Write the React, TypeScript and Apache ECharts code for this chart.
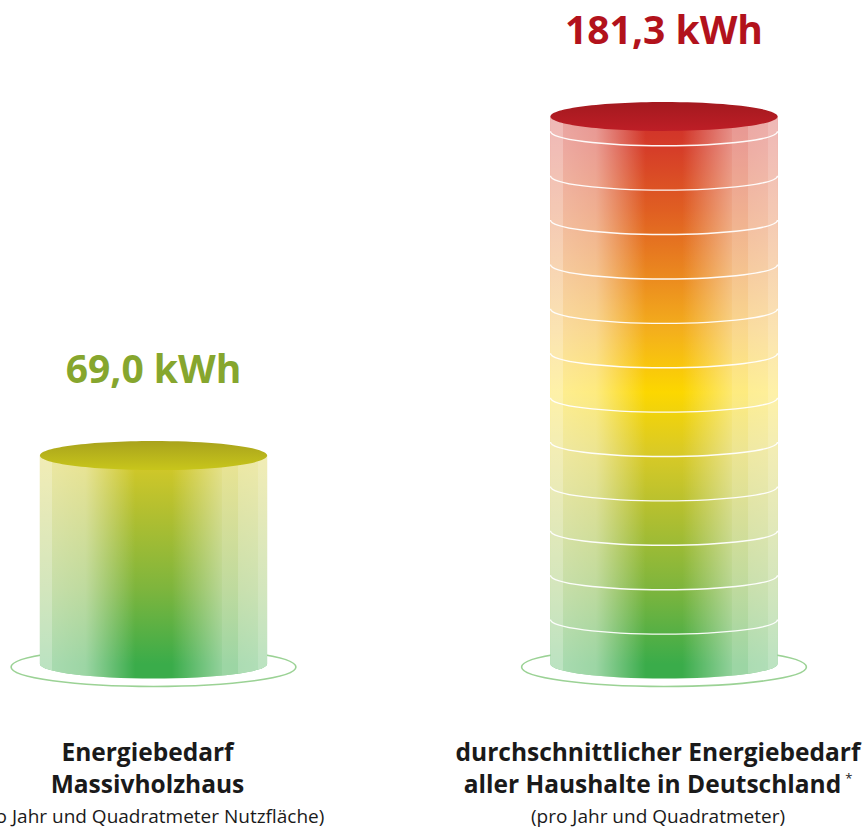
import React, { useEffect, useRef } from 'react';
import * as echarts from 'echarts';

// ---- data ----
const categoryTitles: string[][] = [
  ['Energiebedarf', 'Massivholzhaus'],
  ['durchschnittlicher Energiebedarf', 'aller Haushalte in Deutschland'],
];
const footnoteMarks = ['', '*'];
const subtitles = ['(pro Jahr und Quadratmeter Nutzfläche)', '(pro Jahr und Quadratmeter)'];
const values = [69.0, 181.3];
const unit = 'kWh';
const stripeSteps = [0, 14.7]; // kWh between white rings (0 = no rings)
const yMax = 200;

// colour scale by kWh level (shared by both cylinders)
const colorScaleKwh = [0, 25, 50, 70, 90, 110, 130, 150, 170, 181.3];
const colorScale = ['#3aac4a', '#7eb53d', '#b2bf30', '#d9ca26', '#fcd700', '#f4b01c', '#ea861f', '#e05f22', '#d63e28', '#cf2f2a'];

// ---- styles ----
const labelColors = ['#86a62e', '#b2121c'];
const capColors = [
  ['#a9a31c', '#c8c61b'],
  ['#a3191f', '#be1e26'],
];
const FONT = '"Open Sans", "DejaVu Sans", sans-serif';

const fmt = (v: number) => v.toFixed(1).replace('.', ',') + ' ' + unit;

export default function App() {
  const ref = useRef<HTMLDivElement>(null);

  useEffect(() => {
    if (!ref.current) return;
    const chart = echarts.init(ref.current, undefined, { renderer: 'svg' });
    const colorMax = colorScaleKwh[colorScaleKwh.length - 1];

    const shadeStops = [
      [0, 0.66], [0.055, 0.66], [0.055, 0.56], [0.2, 0.5], [0.42, 0], [0.58, 0],
      [0.8, 0.45], [0.8, 0.5], [0.87, 0.5], [0.87, 0.58], [0.96, 0.6], [0.96, 0.66], [1, 0.66],
    ].map(([o, a]) => ({ offset: o, color: `rgba(255,255,255,${a})` }));

    const option: any = {
      animation: false,
      grid: { left: -101.75, width: 1021, top: 60, height: 604, outerBoundsMode: 'none', containLabel: false },
      xAxis: {
        type: 'category',
        data: categoryTitles.map((t) => t.join(' ')),
        axisLine: { show: false },
        axisTick: { show: false },
        axisLabel: {
          interval: 0,
          margin: 71,
          padding: [0, 12, 0, 0],
          align: 'center',
          hideOverlap: false,
          formatter: (_v: string, i: number) => {
            const lines = categoryTitles[i].map((l, j) =>
              j === categoryTitles[i].length - 1 && footnoteMarks[i]
                ? `{t|${l}}{sup|${footnoteMarks[i]}}`
                : `{t|${l}}`
            );
            return lines.join('\n') + `\n{s|${subtitles[i]}}`;
          },
          rich: {
            t: { fontFamily: FONT, fontWeight: 'bold', fontSize: 24.5, lineHeight: 32, color: '#1a1a1a' },
            sup: { fontFamily: FONT, fontSize: 13, lineHeight: 14, color: '#1a1a1a', verticalAlign: 'top', padding: [4, 0, 0, 4] },
            s: { fontFamily: FONT, fontSize: 19, lineHeight: 34, color: '#1a1a1a' },
          },
        },
      },
      yAxis: { type: 'value', min: 0, max: yMax, show: false },
      series: [
        {
          type: 'custom',
          data: values.map((v, i) => [i, v]),
          encode: { x: 0, y: 1 },
          renderItem: (params: any, api: any) => {
            const i = params.dataIndex;
            const xv = api.value(0);
            const v = api.value(1);
            const [cx, yTop] = api.coord([xv, v]);
            const yBot = api.coord([xv, 0])[1];
            const band = api.size([1, 0])[0];
            const rx = band * 0.2225;
            const ry = 14.5;
            const x0 = cx - rx;
            const x1 = cx + rx;
            const gTop = api.coord([xv, colorMax])[1];
            const stops = colorScaleKwh.map((k, j) => ({ offset: k / colorMax, color: colorScale[j] }));
            const bodyFill = new echarts.graphic.LinearGradient(0, yBot, 0, gTop, stops, true);
            const bodyPath = `M${x0},${yTop} L${x0},${yBot} A${rx},${ry} 0 0 0 ${x1},${yBot} L${x1},${yTop} Z`;

            const children: any[] = [
              {
                type: 'ellipse',
                shape: { cx, cy: yBot + 3, rx: band * 0.279, ry: 19.5 },
                style: { fill: 'none', stroke: '#9bd295', lineWidth: 1.6 },
              },
              { type: 'path', shape: { pathData: bodyPath }, style: { fill: bodyFill } },
              {
                type: 'path',
                shape: { pathData: bodyPath },
                style: { fill: new echarts.graphic.LinearGradient(0, 0, 1, 0, shadeStops) },
              },
            ];
            const step = stripeSteps[i];
            if (step > 0) {
              for (let k = 1; k * step < v - 1; k++) {
                const y = api.coord([xv, k * step])[1];
                children.push({
                  type: 'path',
                  shape: { pathData: `M${x0},${y} A${rx},${ry} 0 0 0 ${x1},${y}` },
                  style: { fill: 'none', stroke: 'rgba(255,255,255,0.95)', lineWidth: 1.4 },
                });
              }
            }
            children.push({
              type: 'ellipse',
              shape: { cx, cy: yTop, rx, ry },
              style: {
                fill: new echarts.graphic.LinearGradient(0, 0, 0, 1, [
                  { offset: 0, color: capColors[i][0] },
                  { offset: 1, color: capColors[i][1] },
                ]),
              },
            });
            children.push({
              type: 'text',
              x: cx,
              y: yTop - 88,
              style: {
                text: fmt(v),
                fill: labelColors[i],
                fontFamily: FONT,
                fontWeight: 'bold',
                fontSize: 39,
                align: 'center',
                verticalAlign: 'middle',
              },
            });
            return { type: 'group', children };
          },
        },
      ],
    };
    chart.setOption(option);
    return () => chart.dispose();
  }, []);

  return (
    <div
      ref={ref}
      style={{ position: 'absolute', left: 0, top: 0, width: 867, height: 830, background: '#fff' }}
    />
  );
}
